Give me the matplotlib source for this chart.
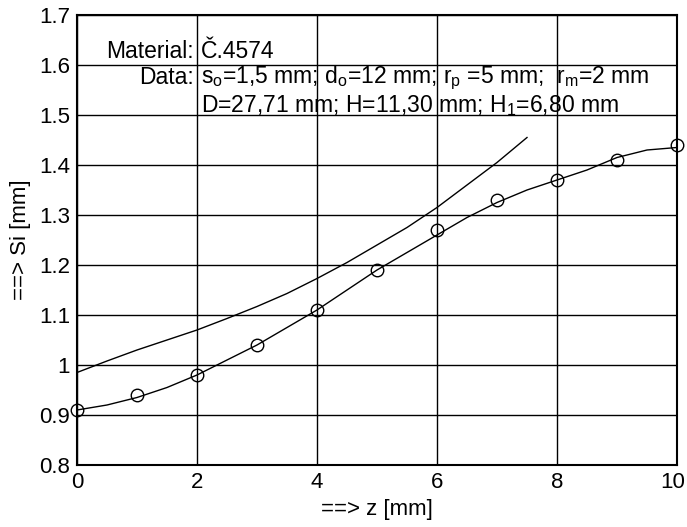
import matplotlib
matplotlib.use("Agg")
import matplotlib.pyplot as plt
from matplotlib.transforms import ScaledTranslation

plt.rcParams['font.family'] = ['Liberation Sans', 'DejaVu Sans']
plt.rcParams['mathtext.fontset'] = 'custom'
plt.rcParams['mathtext.rm'] = 'Liberation Sans'
plt.rcParams['mathtext.it'] = 'Liberation Sans'

# measured points (circles)
z_meas = [0, 1, 2, 3, 4, 5, 6, 7, 8, 9, 10]
si_meas = [0.91, 0.94, 0.98, 1.04, 1.11, 1.19, 1.27, 1.33, 1.37, 1.41, 1.44]

z_fit = [0, 0.5, 1, 1.5, 2, 2.5, 3, 3.5, 4, 4.5, 5, 5.5, 6, 6.5, 7, 7.5, 8, 8.5, 9, 9.5, 10]
si_fit = [0.91, 0.92, 0.935, 0.955, 0.98, 1.01, 1.04, 1.075, 1.11, 1.15, 1.19,
          1.225, 1.26, 1.295, 1.325, 1.35, 1.37, 1.39, 1.415, 1.43, 1.435]

# second (upper) curve
z_up = [0, 0.5, 1, 1.5, 2, 2.5, 3, 3.5, 4, 4.5, 5, 5.5, 6, 6.5, 7, 7.5]
si_up = [0.985, 1.008, 1.03, 1.05, 1.07, 1.093, 1.117, 1.143, 1.173, 1.205,
         1.24, 1.275, 1.315, 1.36, 1.405, 1.455]

xticks = [0, 2, 4, 6, 8, 10]
yticks = [0.8, 0.9, 1.0, 1.1, 1.2, 1.3, 1.4, 1.5, 1.6, 1.7]
ytick_labels = ['0.8', '0.9', '1', '1.1', '1.2', '1.3', '1.4', '1.5', '1.6', '1.7']

fig = plt.figure(figsize=(6.87, 5.27), dpi=100)
ax = fig.add_axes([77/687, 62/527, 600/687, 450/527])

ax.plot(z_fit, si_fit, color='black', lw=1.0)
ax.plot(z_up, si_up, color='black', lw=1.0)
ax.plot(z_meas, si_meas, linestyle='none', marker='o', markersize=9,
        markerfacecolor='none', markeredgecolor='black', markeredgewidth=1.0,
        clip_on=False)

ax.set_xlim(0, 10)
ax.set_ylim(0.8, 1.7)
ax.set_xticks(xticks)
ax.set_yticks(yticks)
ax.set_yticklabels(ytick_labels)
ax.tick_params(direction='in', length=0, labelsize=16, pad=5)
ax.grid(True, color='black', lw=1.0)
for s in ax.spines.values():
    s.set_linewidth(1.5)

# keep the last x tick label inside the canvas
last = ax.get_xticklabels()[-1]
last.set_transform(last.get_transform() + ScaledTranslation(-4/100, 0, fig.dpi_scale_trans))

ax.set_xlabel('==> z [mm]', fontsize=16, labelpad=4)
ax.set_ylabel('==> Si [mm]', fontsize=16, labelpad=6)

fs = 16.5
ax.text(1.95, 1.628, 'Material:', ha='right', va='center', fontsize=fs)
ax.text(2.06, 1.628, 'Č.4574', ha='left', va='center', fontsize=fs)
ax.text(1.95, 1.574, 'Data:', ha='right', va='center', fontsize=fs)
ax.text(2.06, 1.574,
        r'$\mathregular{s_o}$=1,5 mm; $\mathregular{d_o}$=12 mm; $\mathregular{r_p}$ =5 mm;  $\mathregular{r_m}$=2 mm',
        ha='left', va='center', fontsize=fs)
ax.text(2.06, 1.518, r'D=27,71 mm; H=11,30 mm; $\mathregular{H_1}$=6,80 mm',
        ha='left', va='center', fontsize=fs)

fig.savefig('out.png', dpi=100)
